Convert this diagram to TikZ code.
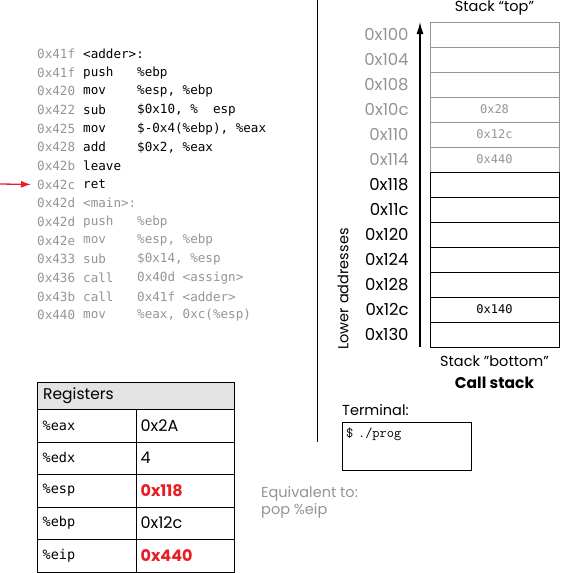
\documentclass[tikz,border=0pt]{standalone}
\usepackage{fontspec}
\setmainfont{Poppins}
\newfontfamily\codefont{DejaVu Sans Mono}
\usetikzlibrary{positioning,arrows.meta}
\definecolor{addrgray}{gray}{0.58}
\definecolor{hotred}{RGB}{232,30,38}

\begin{document}
\begin{tikzpicture}
  [x=1pt, y=-1pt,
   cell/.style={draw, minimum width=129pt, minimum height=25pt, inner sep=0pt,
     font=\codefont\fontsize{12}{14}\selectfont},
   addr/.style={inner sep=0pt, font=\fontsize{16.5}{18}\selectfont},
   label/.style={inner sep=0pt, font=\fontsize{14.5}{17}\selectfont},
   code/.style={anchor=west, inner sep=0pt, font=\codefont\fontsize{12.6}{14}\selectfont},
   regname/.style={draw, anchor=north west, minimum width=99pt, minimum height=32.5pt,
     text width=88pt, inner xsep=5.5pt, align=left, font=\codefont\fontsize{13.5}{15}\selectfont},
   regval/.style={draw, minimum width=98pt, minimum height=32.5pt,
     text width=90pt, inner xsep=4pt, align=left, font=\fontsize{16}{18}\selectfont}]
  \useasboundingbox (0,0) rectangle (560,573);

  % divider
  \coordinate (divtop) at (317,0);
  \coordinate (divbot) at (317,442);
  \draw[line width=1pt] (divtop) -- (divbot);

  % code listing
  \foreach \i/\adr/\op/\arg/\col in {
      0/0x41f/{<adder>:}//black, 1/0x41f/push/\%ebp/black,
      2/0x420/mov/{\%esp, \%ebp}/black, 3/0x422/sub/{\$0x10, \%\ \ esp}/black,
      4/0x425/mov/{\$-0x4(\%ebp), \%eax}/black, 5/0x428/add/{\$0x2, \%eax}/black,
      6/0x42b/leave//black, 7/0x42c/ret//black,
      8/0x42d/{<main>:}//addrgray, 9/0x42d/push/\%ebp/addrgray,
      10/0x42e/mov/{\%esp, \%ebp}/addrgray, 11/0x433/sub/{\$0x14, \%esp}/addrgray,
      12/0x436/call/{0x40d <assign>}/addrgray, 13/0x43b/call/{0x41f <adder>}/addrgray,
      14/0x440/mov/{\%eax, 0xc(\%esp)}/addrgray} {
    \node[code, text=addrgray] (ln\i) at (37, 54+18.65*\i) {\adr};
    \node[code, text=\col] (op\i) at (83, 54+18.65*\i) {\op};
    \node[code, text=\col] (arg\i) at (137, 54+18.65*\i) {\arg};
  }
  \coordinate (pc) at (0,184);
  \draw[hotred, line width=1.3pt, shorten >=6pt, -{Latex[length=10pt,width=7pt]}] (pc) -- (ln7.west);

  % call stack
  \foreach \i/\adr/\val/\col in {
      0/0x100//addrgray, 1/0x104//addrgray, 2/0x108//addrgray,
      3/0x10c/0x28/addrgray, 4/0x110/0x12c/addrgray, 5/0x114/0x440/addrgray,
      6/0x118//black, 7/0x11c//black, 8/0x120//black, 9/0x124//black,
      10/0x128//black, 11/0x12c/0x140/black, 12/0x130//black} {
    \node[cell, draw=\col, text=\col] (cell\i) at (494.5, 34.5+25*\i) {\val};
    \node[addr, text=\col, left=21pt of cell\i] (adr\i) {\adr};
  }
  \coordinate (lowend) at (420,347);
  \coordinate (topend) at (420,22);
  \draw[line width=1.3pt, -{Latex[length=12pt,width=7pt]}] (lowend) -- (topend);
  \node[label, rotate=90] (lower) at (343,289) {Lower addresses};
  \node[label, above=6pt of cell0] (top) {Stack “top”};
  \node[label, below=8pt of cell12] (bottom) {Stack ”bottom”};
  \node[label, font=\bfseries\fontsize{15.5}{17}\selectfont, below=10pt of bottom] (callstack) {Call stack};

  % terminal
  \node[label, anchor=west] (termlabel) at (342,410) {Terminal:};
  \node[draw, anchor=north west, minimum width=129pt, minimum height=45pt,
    text width=121pt, inner xsep=4pt, inner ysep=6pt, align=left, text depth=26pt,
    font=\ttfamily\fontsize{14}{16}\selectfont] (term) at (342,422) {\$ ./prog};

  % registers
  \node[draw, fill=gray!22, anchor=north west, minimum width=197pt, minimum height=27pt,
    text width=185pt, inner xsep=6pt, align=left, font=\fontsize{15.5}{17}\selectfont]
    (reghead) at (37,382) {Registers};
  \foreach \i/\r/\v in {0/\%eax/0x2A, 1/\%edx/4,
      2/\%esp/{\textcolor{hotred}{\bfseries 0x118}}, 3/\%ebp/0x12c,
      4/\%eip/{\textcolor{hotred}{\bfseries 0x440}}} {
    \node[regname] (rn\i) at (37, 409+32.5*\i) {\r};
    \node[regval, right=0pt of rn\i] (rv\i) {\v};
  }

  % note
  \node[label, anchor=west, text=addrgray, align=left] (note) at (261,502)
    {Equivalent to:\\pop \%eip};
\end{tikzpicture}
\end{document}
